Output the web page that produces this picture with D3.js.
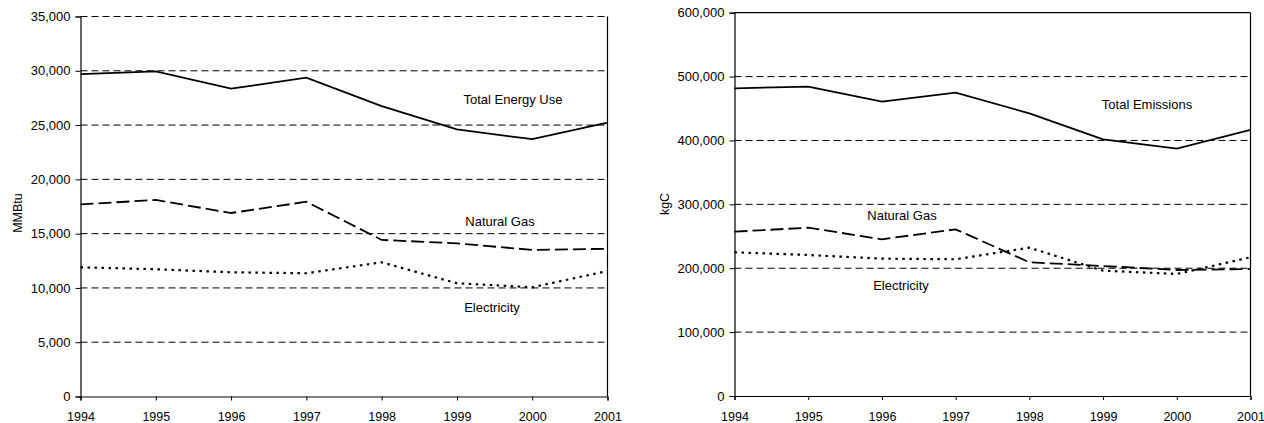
<!DOCTYPE html>
<html>
<head>
<meta charset="utf-8">
<script src="https://cdn.jsdelivr.net/npm/d3@7/dist/d3.min.js"></script>
<style>
  html, body { margin: 0; padding: 0; background: #fff; overflow: hidden; }
  svg { display: block; font-family: "Liberation Sans", Arial, sans-serif; }
</style>
</head>
<body>
<svg id="chart" width="1264" height="423"></svg>
<script>
const years = [1994, 1995, 1996, 1997, 1998, 1999, 2000, 2001];

// Left chart: energy use (MMBtu)
const energyTotal    = [29700, 29950, 28350, 29360, 26750, 24600, 23700, 25220];
const energyGas      = [17700, 18100, 16900, 17940, 14420, 14110, 13500, 13610];
const energyElec     = [11900, 11720, 11440, 11350, 12360, 10430, 10060, 11560];
const energyTicks    = [0, 5000, 10000, 15000, 20000, 25000, 30000, 35000];

// Right chart: emissions (kgC)
const emisTotal      = [481600, 484200, 460700, 474800, 442500, 401800, 387100, 416400];
const emisGas        = [257200, 263500, 245300, 260900, 209300, 203500, 197200, 198800];
const emisElec       = [225000, 220700, 215000, 214000, 232200, 196200, 191000, 217100];
const emisTicks      = [0, 100000, 200000, 300000, 400000, 500000, 600000];

const svg = d3.select("#chart");
const fmt = d3.format(",");

const styles = {
  total: { dash: null, width: 1.8 },
  gas:   { dash: "13,5", width: 1.8 },
  elec:  { dash: "2.5,4.5", width: 2.2 }
};

function drawChart(cfg) {
  const x = d3.scaleLinear().domain([years[0], years[years.length - 1]]).range([cfg.x0, cfg.x1]);
  const y = d3.scaleLinear().domain([0, cfg.ymax]).range([cfg.y0, cfg.y1]);
  const g = svg.append("g");

  // gridlines
  g.append("g").selectAll("line").data(cfg.ticks.filter(t => t > 0 && (cfg.topGrid || t < cfg.ymax)))
    .join("line")
    .attr("x1", cfg.x0).attr("x2", cfg.x1)
    .attr("y1", d => y(d)).attr("y2", d => y(d))
    .attr("stroke", "#000").attr("stroke-width", 1)
    .attr("stroke-dasharray", "7,4");

  // borders
  g.append("line").attr("x1", cfg.x1).attr("x2", cfg.x1).attr("y1", cfg.y1).attr("y2", cfg.y0)
    .attr("stroke", "#000").attr("stroke-width", 1.2);
  if (!cfg.topGrid) {
    g.append("line").attr("x1", cfg.x0).attr("x2", cfg.x1).attr("y1", cfg.y1).attr("y2", cfg.y1)
      .attr("stroke", "#000").attr("stroke-width", 1.2);
  }

  // y axis
  const ya = g.append("g").attr("transform", `translate(${cfg.x0},0)`)
    .call(d3.axisLeft(y).tickValues(cfg.ticks).tickFormat(fmt).tickSize(5).tickPadding(5));
  ya.select(".domain").attr("stroke", "#000").attr("stroke-width", 1.2);
  ya.selectAll(".tick line").attr("stroke", "#000");
  ya.selectAll("text").attr("font-size", 13).attr("fill", "#000")
    .attr("font-family", "Liberation Sans, Arial, sans-serif");

  // x axis
  const xa = g.append("g").attr("transform", `translate(0,${cfg.y0})`)
    .call(d3.axisBottom(x).tickValues(years).tickFormat(d3.format("d")).tickSize(4).tickPadding(12));
  xa.select(".domain").attr("stroke", "#000").attr("stroke-width", 1.2);
  xa.selectAll(".tick line").attr("stroke", "#000");
  xa.selectAll("text").attr("font-size", 12.5).attr("fill", "#000")
    .attr("font-family", "Liberation Sans, Arial, sans-serif");

  // series lines
  const line = d3.line().x((d, i) => x(years[i])).y(d => y(d));
  cfg.series.forEach(s => {
    const st = styles[s.key];
    g.append("path").datum(s.values)
      .attr("d", line)
      .attr("fill", "none")
      .attr("stroke", "#000")
      .attr("stroke-width", st.width)
      .attr("stroke-dasharray", st.dash)
      .attr("stroke-linejoin", "miter");
  });

  // series labels
  cfg.labels.forEach(l => {
    g.append("text").attr("x", l.x).attr("y", l.y)
      .attr("text-anchor", "middle").attr("font-size", 13).attr("fill", "#000")
      .text(l.text);
  });

  // y title
  g.append("text")
    .attr("transform", `translate(${cfg.titleX},${cfg.titleY}) rotate(-90)`)
    .attr("text-anchor", "middle").attr("font-size", 12.5).attr("fill", "#000")
    .text(cfg.title);
}

drawChart({
  x0: 80.5, x1: 607.5, y0: 396.5, y1: 16.5, ymax: 35000, ticks: energyTicks, topGrid: true,
  title: "MMBtu", titleX: 22, titleY: 213,
  series: [
    { key: "total", values: energyTotal },
    { key: "gas", values: energyGas },
    { key: "elec", values: energyElec }
  ],
  labels: [
    { text: "Total Energy Use", x: 513, y: 104 },
    { text: "Natural Gas", x: 500, y: 226 },
    { text: "Electricity", x: 492, y: 312 }
  ]
});

drawChart({
  x0: 734.5, x1: 1250.5, y0: 396, y1: 12.7, ymax: 600000, ticks: emisTicks, topGrid: false,
  title: "kgC", titleX: 669, titleY: 204,
  series: [
    { key: "total", values: emisTotal },
    { key: "gas", values: emisGas },
    { key: "elec", values: emisElec }
  ],
  labels: [
    { text: "Total Emissions", x: 1147, y: 109 },
    { text: "Natural Gas", x: 902, y: 220 },
    { text: "Electricity", x: 901, y: 290 }
  ]
});
</script>
</body>
</html>
